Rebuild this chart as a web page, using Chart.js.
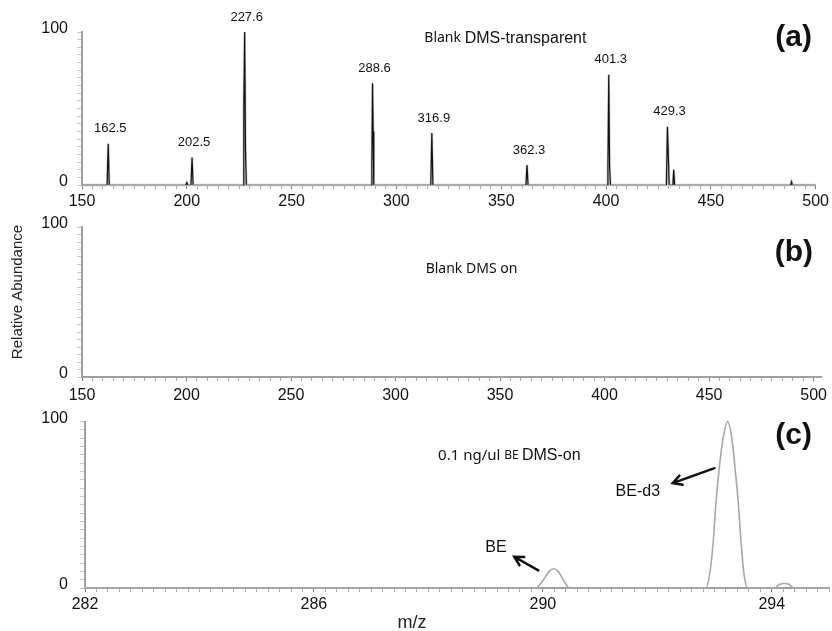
<!DOCTYPE html>
<html><head><meta charset="utf-8">
<script src="https://cdn.jsdelivr.net/npm/chart.js@4/dist/chart.umd.min.js"></script>
<style>
html,body{margin:0;padding:0;background:#fff;}
#wrap{position:relative;width:832px;height:631px;overflow:hidden;background:#fff;}
canvas{position:absolute;left:0;}
</style></head><body>
<div id="wrap">
<canvas id="ca" width="832" height="215" style="top:0px"></canvas>
<canvas id="cb" width="832" height="210" style="top:205px"></canvas>
<canvas id="cc" width="832" height="231" style="top:400px"></canvas>
</div>
<script>
// ---- Panel (a): Blank DMS-transparent spectrum ----
const mzA = [150,
  162.0, 162.5, 163.0,
  199.5, 200.0, 200.5,
  202.0, 202.5, 203.0,
  226.9, 227.2, 227.6, 228.0, 228.4,
  288.0, 288.3, 288.6, 288.9, 289.2,
  316.4, 316.9, 317.4,
  361.8, 362.3, 362.8,
  400.6, 400.9, 401.3, 401.7, 402.1,
  428.8, 429.3, 429.7, 430.1,
  431.9, 432.3, 432.7,
  488.1, 488.5, 488.9,
  500];
const abundA = [0,
  0, 27, 0,
  0, 1.5, 0,
  0, 18, 0,
  0, 50, 100, 22, 0,
  0, 14, 66.5, 35, 0,
  0, 34, 0,
  0, 13, 0,
  0, 11, 72, 12, 0,
  0, 38, 20, 0,
  0, 10, 0,
  0, 2, 0,
  0];
const peakLabelsA = ['162.5', '202.5', '227.6', '288.6', '316.9', '362.3', '401.3', '429.3'];
const peakMzA = [162.5, 202.5, 227.6, 288.6, 316.9, 362.3, 401.3, 429.3];
const peakAbundA = [27, 18, 100, 66.5, 34, 13, 72, 38];
const xTickLabelsAB = [150, 200, 250, 300, 350, 400, 450, 500];

// ---- Panel (c): 0.1 ng/ul BE DMS-on ----
const mzC = [282,
  289.88, 289.96, 290.03, 290.11, 290.19, 290.27, 290.34, 290.40, 290.46,
  292.85, 292.92, 292.98, 293.02, 293.07, 293.14, 293.23, 293.31, 293.37, 293.42, 293.46, 293.51, 293.58,
  294.05, 294.14, 294.22, 294.30, 294.39,
  295];
const abundC = [0,
  0, 2.5, 5.9, 10, 11.6, 10, 5.9, 2.5, 0,
  0, 9.6, 29, 49, 68, 88, 100, 88, 68, 49, 29, 9.6, 0,
  0, 2.2, 2.7, 2.2, 0,
  0];
const xTickLabelsC = [282, 286, 290, 294];
const yTickLabels = [0, 100];

const SANS = "'Liberation Sans', Arial, sans-serif";
const CAL = "'Noto Sans', 'Open Sans', sans-serif";

function pts(xs, ys) { return xs.map((x, i) => ({x: x, y: ys[i]})); }
function hasTick(list, v) { return list.some(t => Math.abs(t - v) < 1e-6); }

function yScale(width, pad) {
  return {
    type: 'linear', min: 0, max: 100,
    afterFit: s => { s.width = width; },
    border: {display: true, color: '#a0a0a0', width: 2},
    grid: {display: true, drawOnChartArea: false, drawTicks: true, tickLength: 5, tickColor: '#c8c8c8'},
    ticks: {stepSize: 5, autoSkip: false, padding: pad, labelOffset: -3, color: '#111',
      font: {family: SANS, size: 16},
      callback: v => hasTick(yTickLabels, v) ? String(v) : ''}
  };
}
function xScale(min, max, step, labels, height, pad) {
  return {
    type: 'linear', min: min, max: max,
    afterFit: s => { s.height = height; },
    border: {display: true, color: '#a0a0a0', width: 2},
    grid: {display: true, drawOnChartArea: false, drawTicks: true, tickLength: 4,
      tickColor: c => (c.tick && hasTick(labels, c.tick.value)) ? '#777' : '#aaa'},
    ticks: {stepSize: step, autoSkip: false, maxRotation: 0, padding: pad, color: '#111',
      includeBounds: false,
      font: {family: SANS, size: 16},
      callback: v => hasTick(labels, v) ? String(v) : ''}
  };
}

function arrow(ctx, x1, y1, x2, y2) {
  const a = Math.atan2(y2 - y1, x2 - x1), L = 10, w = 0.5;
  ctx.save();
  ctx.strokeStyle = '#111'; ctx.lineWidth = 2.5; ctx.lineCap = 'round';
  ctx.beginPath(); ctx.moveTo(x1, y1); ctx.lineTo(x2, y2);
  ctx.moveTo(x2 - L * Math.cos(a - w), y2 - L * Math.sin(a - w));
  ctx.lineTo(x2, y2);
  ctx.lineTo(x2 - L * Math.cos(a + w), y2 - L * Math.sin(a + w));
  ctx.stroke();
  ctx.restore();
}
function panelTag(ctx, txt, x, y) {
  ctx.save();
  ctx.font = 'bold 30px ' + SANS; ctx.fillStyle = '#111';
  ctx.textAlign = 'right'; ctx.textBaseline = 'middle';
  ctx.fillText(txt, x, y);
  ctx.restore();
}
function runs(ctx, parts, x, y) {
  ctx.save(); ctx.fillStyle = '#111'; ctx.textBaseline = 'middle'; ctx.textAlign = 'left';
  for (const p of parts) { ctx.font = p[1]; ctx.fillText(p[0], x, y); x += ctx.measureText(p[0]).width; }
  ctx.restore();
}

const common = {
  responsive: false, animation: false, devicePixelRatio: 1,
  plugins: {legend: {display: false}, tooltip: {enabled: false}},
  elements: {point: {radius: 0}}
};

// Panel (a)
new Chart(document.getElementById('ca'), {
  type: 'scatter',
  data: {datasets: [
    {data: pts(mzA, abundA), showLine: true, borderColor: '#cfcfcf', borderWidth: 2.6, clip: false, order: 2},
    {data: pts(mzA, abundA), showLine: true, borderWidth: 1.2, clip: false, order: 1,
      borderColor: '#222',
      segment: {borderColor: c => (c.p0.parsed.y > 0 || c.p1.parsed.y > 0) ? '#111' : '#8a8a8a'}}
  ]},
  options: Object.assign({}, common, {
    layout: {padding: {top: 32, right: 15, left: 0, bottom: 0}},
    scales: {x: xScale(150, 500, 5, xTickLabelsAB, 30, 3), y: yScale(82, 9)}
  }),
  plugins: [{id: 'annA', afterDraw(ch) {
    const ctx = ch.ctx, xs = ch.scales.x, ys = ch.scales.y;
    ctx.save();
    ctx.font = '13px ' + SANS; ctx.fillStyle = '#111'; ctx.textAlign = 'center'; ctx.textBaseline = 'middle';
    peakLabelsA.forEach((t, i) => ctx.fillText(t, xs.getPixelForValue(peakMzA[i]) + 2, ys.getPixelForValue(peakAbundA[i]) - 15));
    ctx.restore();
    runs(ctx, [['Blank ', '14px ' + CAL], ['DMS-transparent', '16px ' + SANS]], xs.getPixelForValue(313.3), ys.getPixelForValue(95.8));
    panelTag(ctx, '(a)', 812, 38);
  }}]
});

// Panel (b)
new Chart(document.getElementById('cb'), {
  type: 'scatter',
  data: {datasets: []},
  options: Object.assign({}, common, {
    layout: {padding: {top: 22, right: 5, left: 0, bottom: 0}},
    scales: {x: xScale(150, 504, 5, xTickLabelsAB, 38, 5), y: yScale(82, 9)}
  }),
  plugins: [{id: 'annB', afterDraw(ch) {
    const ctx = ch.ctx, xs = ch.scales.x, ys = ch.scales.y;
    runs(ctx, [['Blank DMS on', '14px ' + CAL]], xs.getPixelForValue(314.4), ys.getPixelForValue(72));
    panelTag(ctx, '(b)', 813, 48);
    ctx.save();
    ctx.translate(18, 87); ctx.rotate(-Math.PI / 2);
    ctx.font = '15px ' + SANS; ctx.fillStyle = '#222'; ctx.textAlign = 'center'; ctx.textBaseline = 'middle';
    ctx.fillText('Relative Abundance', 0, 0);
    ctx.restore();
  }}]
});

// Panel (c)
new Chart(document.getElementById('cc'), {
  type: 'scatter',
  data: {datasets: [
    {data: pts(mzC, abundC), showLine: true, borderColor: '#a8a8a8', borderWidth: 1.6,
      cubicInterpolationMode: 'monotone', clip: false}
  ]},
  options: Object.assign({}, common, {
    layout: {padding: {top: 18, right: 3, left: 0, bottom: 0}},
    scales: {x: xScale(282, 295, 0.2, xTickLabelsC, 43, 3), y: yScale(85, 12)}
  }),
  plugins: [{id: 'annC', afterDraw(ch) {
    const ctx = ch.ctx, xs = ch.scales.x, ys = ch.scales.y;
    const px = v => xs.getPixelForValue(v), py = v => ys.getPixelForValue(v);
    runs(ctx, [['0.1 ng/ul ', '15px ' + CAL], ['BE ', '12px ' + CAL], ['DMS-on', '16px ' + SANS]], px(288.17), py(79.4));
    ctx.save();
    ctx.font = '16px ' + SANS; ctx.fillStyle = '#111'; ctx.textAlign = 'center'; ctx.textBaseline = 'middle';
    ctx.fillText('BE-d3', px(291.66), py(58.2));
    ctx.fillText('BE', px(289.18), py(24.1));
    ctx.restore();
    arrow(ctx, px(293.0), py(72), px(292.27), py(63));
    arrow(ctx, px(289.92), py(10.6), px(289.5), py(18.8));
    panelTag(ctx, '(c)', 812, 36);
    ctx.save();
    ctx.font = '18px ' + SANS; ctx.fillStyle = '#222'; ctx.textAlign = 'center'; ctx.textBaseline = 'middle';
    ctx.fillText('m/z', 412, 223);
    ctx.restore();
  }}]
});
</script>
</body></html>
